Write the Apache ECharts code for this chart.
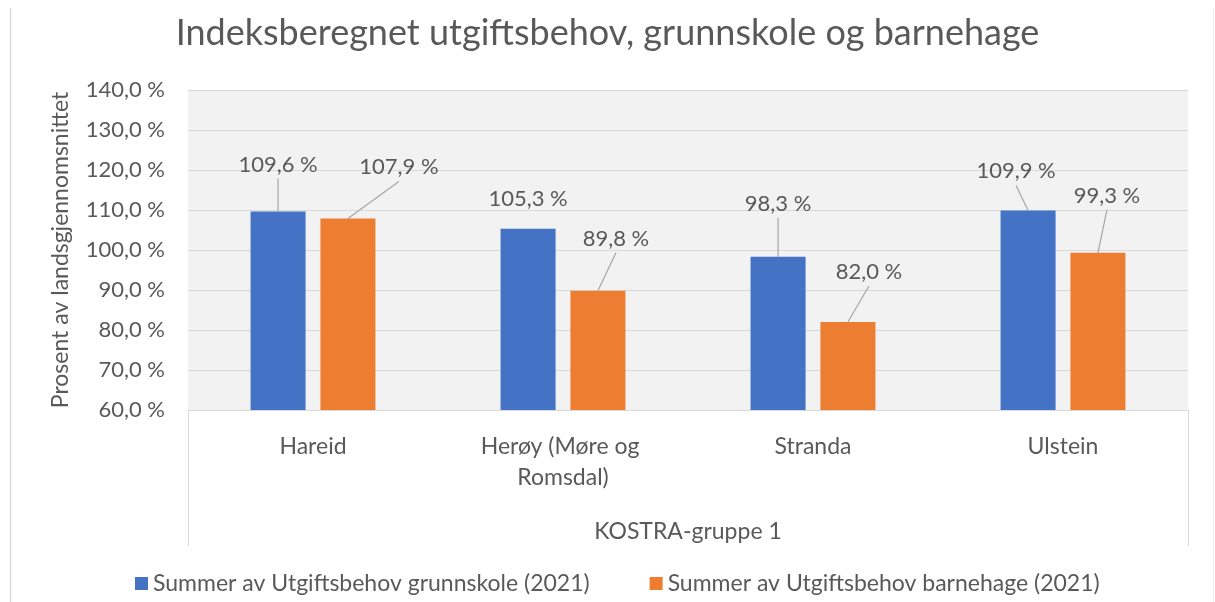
<!DOCTYPE html>
<html>
<head>
<meta charset="utf-8">
<title>Indeksberegnet utgiftsbehov</title>
<script src="https://cdn.jsdelivr.net/npm/echarts@6/dist/echarts.min.js"></script>
<style>
  html, body { margin: 0; padding: 0; background: #fff; }
  #chart { width: 1215px; height: 602px; }
</style>
</head>
<body>
<div id="chart"></div>
<script>
  // data
  var kommuner = ['Hareid', 'Herøy (Møre og Romsdal)', 'Stranda', 'Ulstein'];
  var gruppe = ['KOSTRA-gruppe 1'];
  var grunnskole = [109.6, 105.3, 98.3, 109.9];
  var barnehage = [107.9, 89.8, 82.0, 99.3];
  var seriesNames = ['Summer av Utgiftsbehov grunnskole (2021)', 'Summer av Utgiftsbehov barnehage (2021)'];

  // label placement (dx, dy from default 'top' spot) + whether a leader line is drawn
  var labelShift = [
    [[0, -31], [0, -14], [0, -37], [-12, -23]],
    [[51, -35], [18, -36], [21, -34], [9, -41]]
  ];
  var leader = [
    [true, false, true, true],
    [true, true, true, true]
  ];

  var font = 'Lato';
  var txt = '#595959';
  var lineCol = '#d9d9d9';
  var barW = 0.22, barGap = 0.27;

  function pct(v) {
    return v.toFixed(1).replace('.', ',') + ' %';
  }

  // leader lines: from bar top centre to just under the moved label
  var leaderData = [];
  [grunnskole, barnehage].forEach(function (vals, s) {
    vals.forEach(function (v, i) {
      if (leader[s][i]) leaderData.push([i, v, s]);
    });
  });

  function renderLeader(params, api) {
    var cat = api.value(0), s = api.value(2);
    var band = api.size([1, 0])[0];
    var bw = band * barW;
    var off = (s === 0 ? -1 : 1) * (bw + bw * barGap) / 2;
    var p = api.coord([cat, api.value(1)]);
    var x0 = p[0] + off, y0 = p[1];
    var sh = labelShift[s][cat];
    return {
      type: 'line',
      shape: { x1: x0, y1: y0, x2: x0 + sh[0], y2: y0 - 5 + sh[1] + 3 },
      style: { stroke: '#a6a6a6', lineWidth: 1.2 }
    };
  }

  var myChart = echarts.init(document.getElementById('chart'));
  var option = {
    animation: false,
    color: ['#4472C4', '#ED7D31'],
    textStyle: { fontFamily: font },
    title: {
      text: 'Indeksberegnet utgiftsbehov, grunnskole og barnehage',
      left: 'center',
      top: 10,
      textStyle: { fontFamily: font, fontSize: 36, fontWeight: 'normal', color: txt }
    },
    legend: {
      data: seriesNames,
      bottom: 2,
      left: 130,
      icon: 'rect',
      itemWidth: 13,
      itemHeight: 13,
      itemGap: 60,
      textStyle: { fontFamily: font, fontSize: 23, color: txt }
    },
    grid: {
      left: 188,
      right: 27,
      top: 90,
      bottom: 192,
      show: true,
      backgroundColor: '#f2f2f2',
      borderWidth: 0
    },
    xAxis: [
      {
        type: 'category',
        data: kommuner,
        axisLine: { lineStyle: { color: lineCol } },
        axisTick: { show: false },
        axisLabel: {
          interval: 0,
          margin: 21,
          fontFamily: font,
          fontSize: 23,
          color: txt,
          lineHeight: 31,
          width: 200,
          overflow: 'break'
        }
      },
      {
        type: 'category',
        data: gruppe,
        position: 'bottom',
        axisLine: { show: false },
        axisTick: { show: true, length: 136, lineStyle: { color: lineCol } },
        axisLabel: { margin: 110, fontFamily: font, fontSize: 23, color: txt }
      }
    ],
    yAxis: {
      type: 'value',
      min: 60,
      max: 140,
      interval: 10,
      name: 'Prosent av landsgjennomsnittet',
      nameLocation: 'middle',
      nameGap: 116,
      nameTextStyle: { fontFamily: font, fontSize: 23, color: txt },
      axisLine: { show: false },
      axisTick: { show: false },
      splitLine: { lineStyle: { color: lineCol } },
      axisLabel: {
        margin: 23,
        fontFamily: font,
        fontSize: 22,
        color: txt,
        formatter: pct
      }
    },
    graphic: [
      { type: 'line', shape: { x1: 10.5, y1: 8, x2: 10.5, y2: 602 }, style: { stroke: lineCol, lineWidth: 1.5 } },
      { type: 'line', shape: { x1: 1213.5, y1: 8, x2: 1213.5, y2: 602 }, style: { stroke: '#ececec', lineWidth: 1 } }
    ],
    series: [grunnskole, barnehage].map(function (vals, s) {
      return {
        name: seriesNames[s],
        type: 'bar',
        xAxisIndex: 0,
        barWidth: (barW * 100) + '%',
        barGap: (barGap * 100) + '%',
        data: vals,
        label: {
          show: true,
          position: 'top',
          fontFamily: font,
          fontSize: 22,
          color: txt,
          formatter: function (p) { return pct(p.value); }
        },
        labelLayout: function (p) {
          var d = labelShift[s][p.dataIndex];
          return { dx: d[0], dy: d[1] };
        }
      };
    }).concat([{
      type: 'custom',
      xAxisIndex: 0,
      silent: true,
      z: 3,
      renderItem: renderLeader,
      data: leaderData
    }])
  };
  myChart.setOption(option);
  window.onresize = myChart.resize;
</script>
</body>
</html>
